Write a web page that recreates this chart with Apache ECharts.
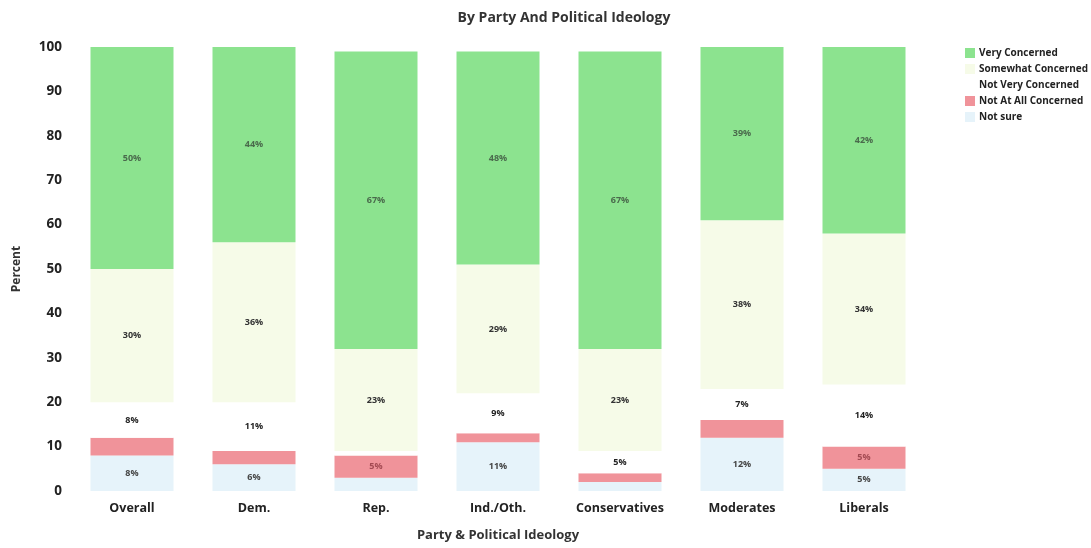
<!DOCTYPE html>
<html>
<head>
<meta charset="utf-8">
<script src="https://cdn.jsdelivr.net/npm/echarts@6/dist/echarts.min.js"></script>
<style>html,body{margin:0;padding:0;background:#fff;}#chart{width:1091px;height:548px;}</style>
</head>
<body>
<div id="chart"></div>
<script>
var categories = ['Overall', 'Dem.', 'Rep.', 'Ind./Oth.', 'Conservatives', 'Moderates', 'Liberals'];
var notSure = [8, 6, 3, 11, 2, 12, 5];
var notAtAll = [4, 3, 5, 2, 2, 4, 5];
var notVery = [8, 11, 1, 9, 5, 7, 14];
var somewhat = [30, 36, 23, 29, 23, 38, 34];
var very = [50, 44, 67, 48, 67, 39, 42];
var yTicks = [0, 10, 20, 30, 40, 50, 60, 70, 80, 90, 100];

var FONT = '"Open Sans", "DejaVu Sans", sans-serif';
var chart = echarts.init(document.getElementById('chart'));

function mk(name, data, color, labelColor) {
  return {
    name: name, type: 'bar', stack: 'all', data: data, barWidth: 83,
    itemStyle: { color: color },
    label: {
      show: true, position: 'inside', fontFamily: FONT, fontSize: 9, fontWeight: 'bold',
      color: labelColor,
      formatter: function (p) { return p.value >= 5 ? p.value + '%' : ''; }
    }
  };
}

chart.setOption({
  animation: false,
  title: {
    text: 'By Party And Political Ideology', left: 559, top: 6, textAlign: 'center',
    textStyle: { fontFamily: FONT, fontSize: 14, fontWeight: 'bold', color: '#333' }
  },
  legend: {
    orient: 'vertical', left: 960, top: 43, itemWidth: 10, itemHeight: 10, itemGap: 6,
    icon: 'rect',
    data: ['Very Concerned', 'Somewhat Concerned', 'Not Very Concerned', 'Not At All Concerned', 'Not sure'],
    textStyle: { fontFamily: FONT, fontSize: 10, fontWeight: 'bold', color: '#222', padding: [0, 0, 0, -1] }
  },
  grid: { left: 71, right: 166, top: 47, bottom: 57 },
  xAxis: {
    type: 'category', data: categories,
    name: 'Party & Political Ideology', nameLocation: 'middle', nameGap: 38,
    nameTextStyle: { fontFamily: FONT, fontSize: 13, fontWeight: 'bold', color: '#333' },
    axisLine: { show: false }, axisTick: { show: false },
    axisLabel: { fontFamily: FONT, fontSize: 12.5, fontWeight: 'bold', color: '#222', margin: 11 }
  },
  yAxis: {
    type: 'value', min: 0, max: 100, interval: 10,
    name: 'Percent', nameLocation: 'middle', nameGap: 48,
    nameTextStyle: { fontFamily: FONT, fontSize: 12, fontWeight: 'bold', color: '#333' },
    axisLine: { show: false }, axisTick: { show: false }, splitLine: { show: false },
    axisLabel: { fontFamily: FONT, fontSize: 13.5, fontWeight: 'bold', color: '#222', margin: 9,
      formatter: function (v) { return yTicks.indexOf(v) >= 0 ? String(v) : ''; } }
  },
  series: [
    mk('Not sure', notSure, '#e6f3fa', '#444'),
    mk('Not At All Concerned', notAtAll, '#f0939a', '#a34a52'),
    mk('Not Very Concerned', notVery, '#ffffff', '#222'),
    mk('Somewhat Concerned', somewhat, '#f6fbe8', '#333'),
    mk('Very Concerned', very, '#8ce38f', '#4a6a4c')
  ]
});
</script>
</body>
</html>
